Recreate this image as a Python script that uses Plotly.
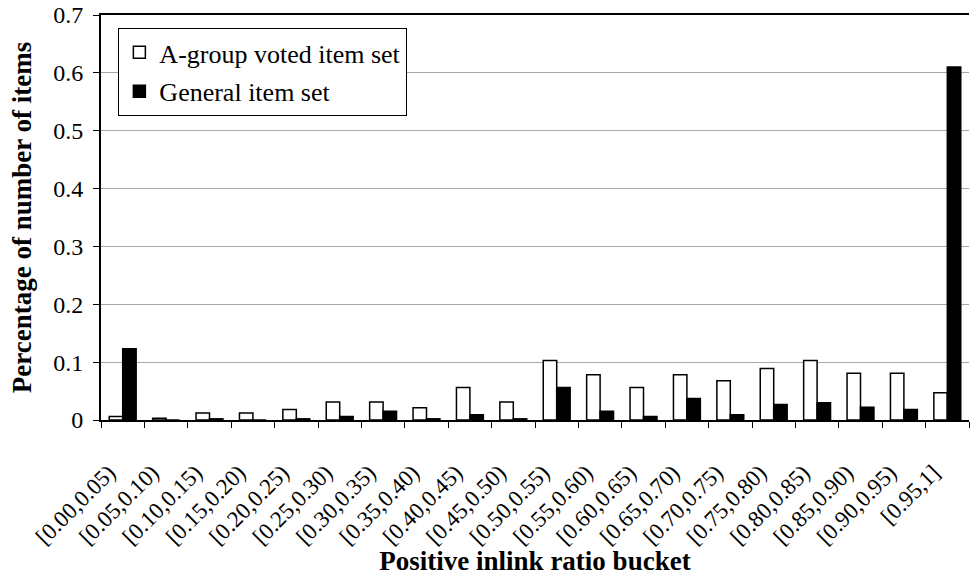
import plotly.graph_objects as go

buckets = ["[0.00,0.05)", "[0.05,0.10)", "[0.10,0.15)", "[0.15,0.20)", "[0.20,0.25)",
           "[0.25,0.30)", "[0.30,0.35)", "[0.35,0.40)", "[0.40,0.45)", "[0.45,0.50)",
           "[0.50,0.55)", "[0.55,0.60)", "[0.60,0.65)", "[0.65,0.70)", "[0.70,0.75)",
           "[0.75,0.80)", "[0.80,0.85)", "[0.85,0.90)", "[0.90,0.95)", "[0.95,1]"]
a_group = [0.006, 0.003, 0.012, 0.012, 0.018, 0.031, 0.031, 0.021, 0.056, 0.031,
           0.103, 0.078, 0.056, 0.078, 0.068, 0.089, 0.103, 0.081, 0.081, 0.047]
general = [0.123, 0.0, 0.002, 0.0, 0.002, 0.006, 0.015, 0.002, 0.009, 0.002,
           0.056, 0.015, 0.006, 0.037, 0.009, 0.027, 0.030, 0.022, 0.018, 0.610]

font_family = "Liberation Serif"

fig = go.Figure()
fig.add_trace(go.Bar(x=buckets, y=a_group, name="A-group voted item set",
                     legendgroup="a",
                     marker=dict(color="white", line=dict(color="black", width=1.5))))
fig.add_trace(go.Bar(x=buckets, y=general, name="General item set",
                     legendgroup="b",
                     marker=dict(color="black", line=dict(color="black", width=1.5))))

fig.update_layout(
    width=972, height=576,
    margin=dict(l=101, r=3, t=15, b=156, autoexpand=False),
    paper_bgcolor="white", plot_bgcolor="white",
    barmode="group", bargap=0.38, bargroupgap=0,
    font=dict(family=font_family, size=22, color="black"),
    showlegend=True,
    legend=dict(x=0.02, y=0.968, xanchor="left", yanchor="top",
                bgcolor="white", bordercolor="black", borderwidth=1,
                font=dict(family=font_family, size=26, color="black"),
                tracegroupgap=2, itemwidth=30),
    xaxis=dict(
        type="category", tickson="boundaries", ticks="outside", ticklen=6,
        tickcolor="black", tickwidth=1, automargin=False,
        showline=True, linecolor="black", linewidth=2, mirror=True,
        tickangle=-45, tickfont=dict(family=font_family, size=23),
        ticklabelstandoff=28, ticklabelshift=-14,
        title=dict(text="<b>Positive inlink ratio bucket</b>", standoff=0,
                   font=dict(family=font_family, size=27)),
        showgrid=False,
    ),
    yaxis=dict(
        range=[0, 0.7], dtick=0.1, tick0=0, automargin=False,
        ticks="outside", ticklen=6, tickcolor="black",
        showline=True, linecolor="black", linewidth=2,
        showgrid=True, gridcolor="#a8a8a8", gridwidth=1,
        zeroline=False, ticklabelstandoff=5, ticklabeloverflow="allow",
        tickfont=dict(family=font_family, size=24),
        title=dict(text="<b>Percentage of number of items</b>", standoff=14,
                   font=dict(family=font_family, size=27)),
    ),
)

fig.write_html("out.html", config={"displayModeBar": False},
               post_script="document.body.style.margin='0';document.body.style.padding='0';")
